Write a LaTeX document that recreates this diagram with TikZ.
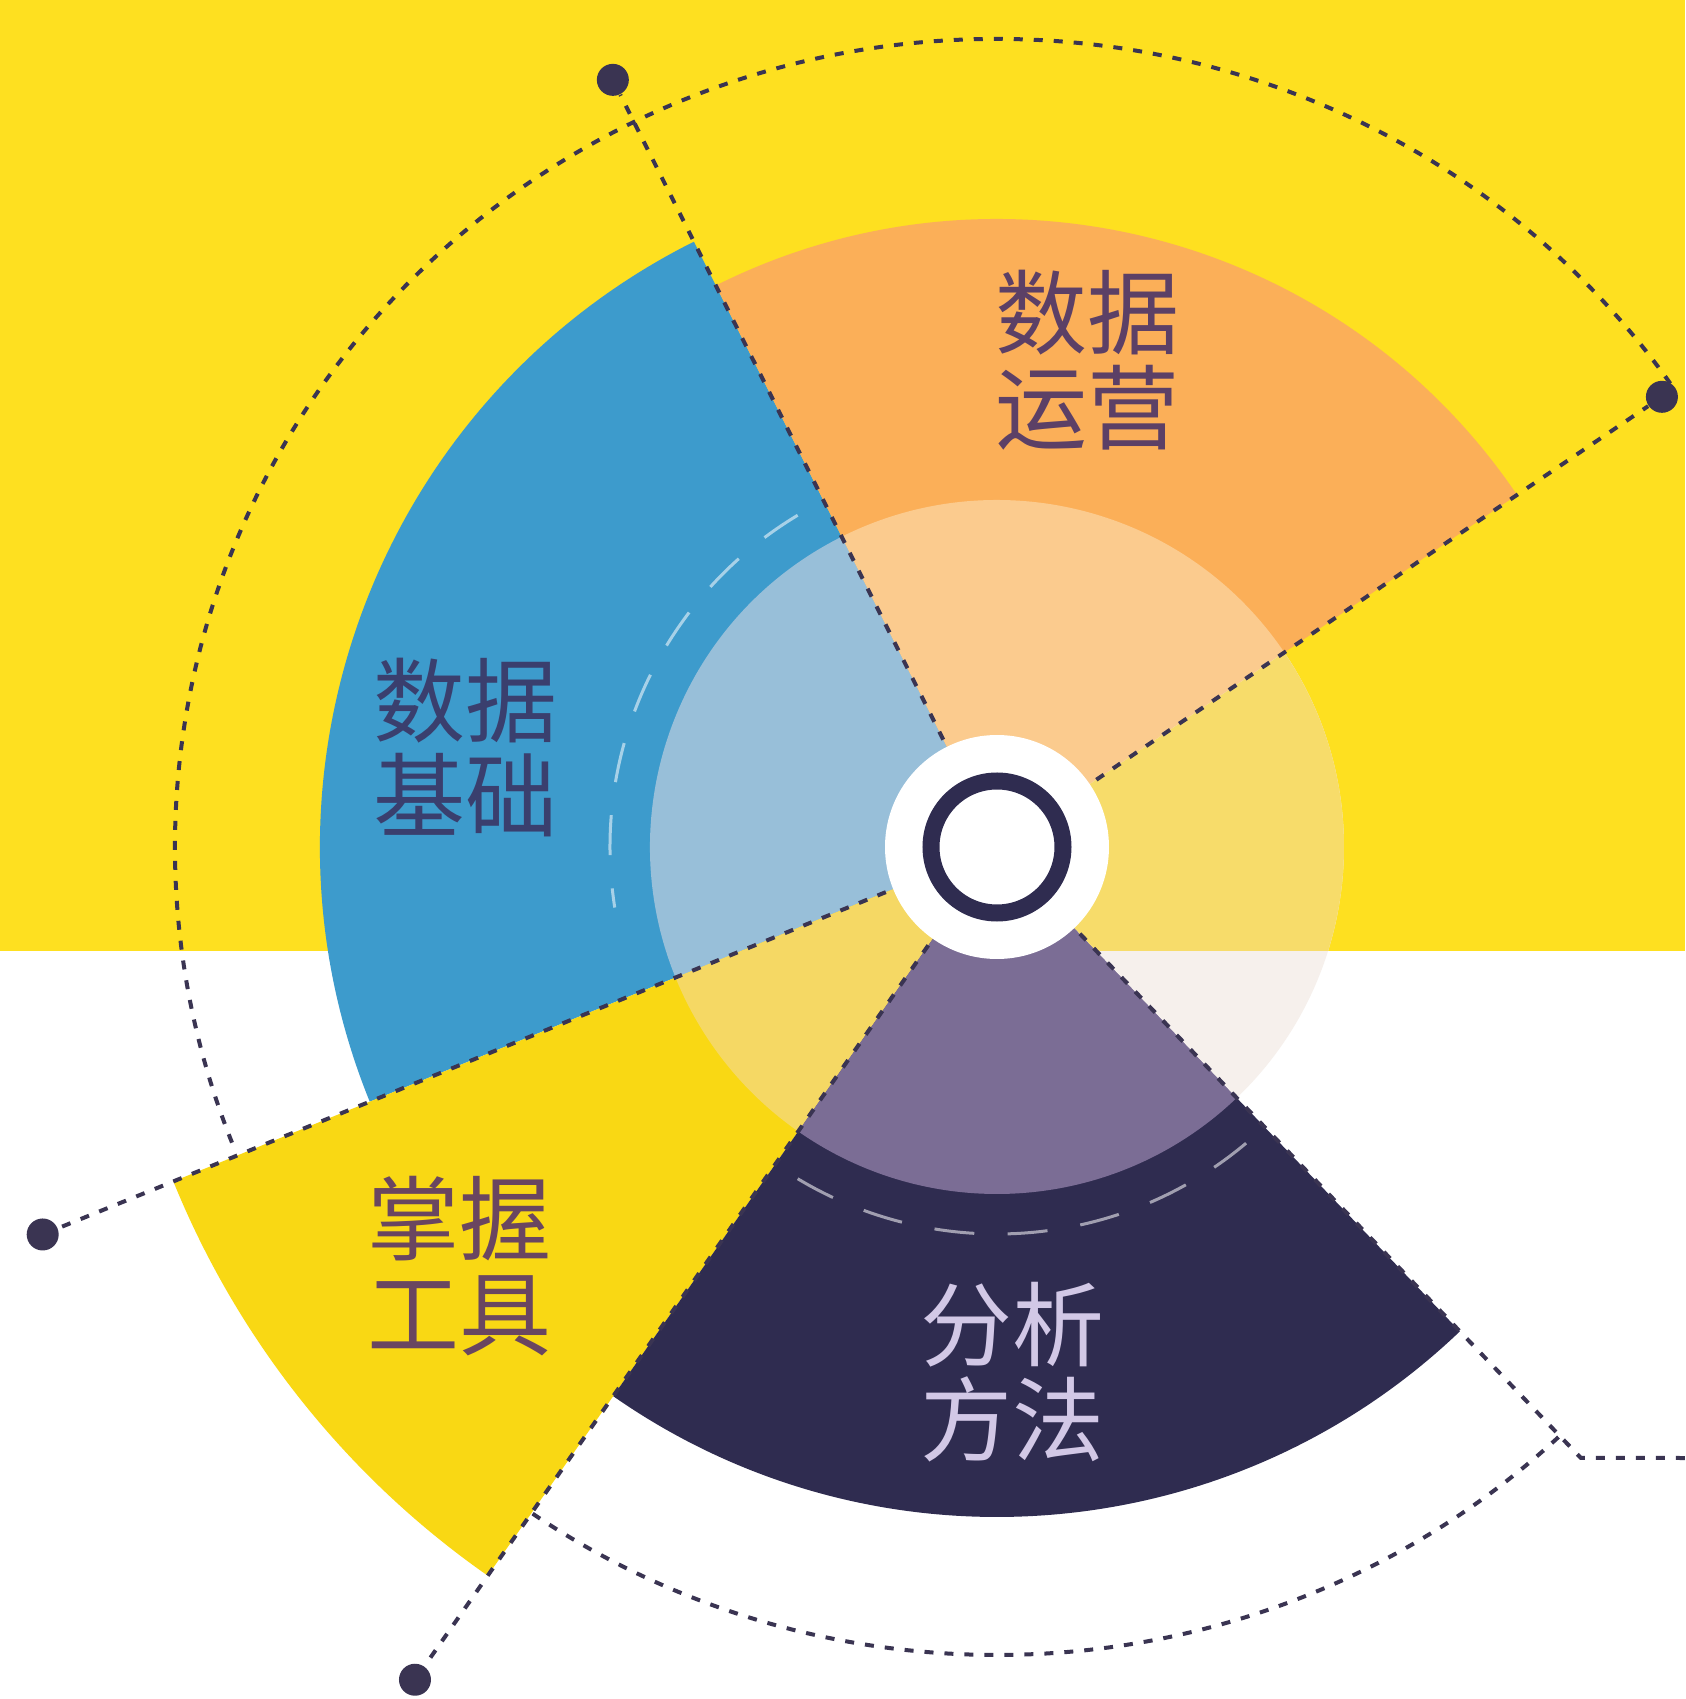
\documentclass[tikz,border=0pt]{standalone}
\usepackage{fontspec}
\newfontfamily\cjk{Noto Sans CJK SC}
\definecolor{ybg}{HTML}{FEE020}
\definecolor{cblue}{HTML}{3D9BCC}
\definecolor{cblueL}{HTML}{98BFD9}
\definecolor{corange}{HTML}{FBAF58}
\definecolor{corangeL}{HTML}{FBCB8E}
\definecolor{ctool}{HTML}{F9D814}
\definecolor{ctoolL}{HTML}{F5D864}
\definecolor{cdark}{HTML}{2F2C50}
\definecolor{cdarkL}{HTML}{7B6D95}
\definecolor{crightY}{HTML}{F7DC6A}
\definecolor{crightW}{HTML}{F6F0EC}
\definecolor{dk}{HTML}{3A3452}
\definecolor{tOrange}{HTML}{5C4066}
\definecolor{tBlue}{HTML}{3A3F6E}
\definecolor{tTool}{HTML}{6A4660}
\definecolor{tDark}{HTML}{D2C8E6}
\begin{document}
\begin{tikzpicture}[x=0.3pt,y=0.3pt,
  dline/.style={draw=dk, line width=1.2pt, dash pattern=on 2.7pt off 3.3pt},
  wdash/.style={draw=white, draw opacity=0.55, line width=0.9pt, dash pattern=on 12pt off 10pt},
  dotn/.style={circle, fill=dk, inner sep=0pt, minimum size=9.6pt},
  lbl/.style={font=\cjk\fontsize{27.6}{28.5}\selectfont, align=center, inner sep=0pt}
]
\useasboundingbox (-997,-852) rectangle (688,847);
% background
\fill[white] (-997,-852) rectangle (688,847);
\fill[ybg] (-997,-104) rectangle (688,847);

\coordinate (C) at (0,0);

% outer sectors
\fill[cblue] (C) -- (116.6:677) arc[start angle=116.6, end angle=202.1, radius=677] -- cycle;
\fill[corange] (C) -- (34.1:628) arc[start angle=34.1, end angle=116.6, radius=628] -- cycle;
\fill[ctool] (C) -- (202.1:889) arc[start angle=202.1, end angle=235.05, radius=889] -- cycle;
\fill[cdark] (C) -- (235.05:670) arc[start angle=235.05, end angle=313.7, radius=670] -- cycle;

% inner sectors
\fill[cblueL] (C) -- (116.6:347) arc[start angle=116.6, end angle=202.1, radius=347] -- cycle;
\fill[corangeL] (C) -- (34.1:347) arc[start angle=34.1, end angle=116.6, radius=347] -- cycle;
\fill[ctoolL] (C) -- (202.1:347) arc[start angle=202.1, end angle=235.05, radius=347] -- cycle;
\fill[cdarkL] (C) -- (235.05:347) arc[start angle=235.05, end angle=313.7, radius=347] -- cycle;
\fill[crightW] (C) -- (313.7:347) arc[start angle=313.7, end angle=394.1, radius=347] -- cycle;
\begin{scope}
\clip (-997,-104) rectangle (688,847);
\fill[crightY] (C) -- (313.7:347) arc[start angle=313.7, end angle=394.1, radius=347] -- cycle;
\end{scope}

% white dashed arcs
\draw[wdash] (121:387) arc[start angle=121, end angle=189, radius=387];
\draw[wdash] (239:387) arc[start angle=239, end angle=311, radius=387];

% dots
\node[dotn] (d1) at (116.6:858) {};
\node[dotn] (d2) at (34.1:803) {};
\node[dotn] (d3) at (202.1:1030) {};
\node[dotn] (d4) at (235.05:1016) {};
\coordinate (K) at (313.7:845);
\coordinate (E) at (688,-611);

% dashed lines
\draw[dline] (C) -- (d1);
\draw[dline] (C) -- (d2);
\draw[dline] (C) -- (d3);
\draw[dline] (C) -- (d4);
\draw[dline] (C) -- (K) -- (E);

% big dashed ellipse arcs
\draw[dline] (C) ++(35:822 and 808) arc[start angle=35, end angle=202.1, x radius=822, y radius=808];
\draw[dline] (C) ++(235.6:822 and 808) arc[start angle=235.6, end angle=313.2, x radius=822, y radius=808];

% centre
\fill[white] (C) circle[radius=112];
\draw[cdark, line width=5.1pt] (C) circle[radius=66];

% labels
\node[lbl, text=tOrange] (t1) at (90,487) {数据\\运营};
\node[lbl, text=tBlue] (t2) at (-531,99) {数据\\基础};
\node[lbl, text=tTool] (t3) at (-537,-419) {掌握\\工具};
\node[lbl, text=tDark] (t4) at (15,-525) {分析\\方法};
\end{tikzpicture}
\end{document}
